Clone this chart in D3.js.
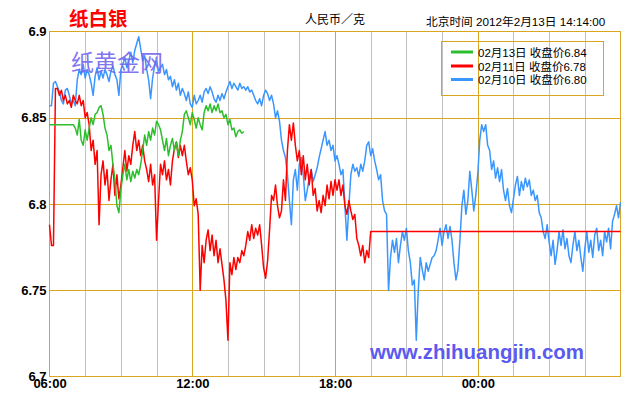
<!DOCTYPE html>
<html>
<head>
<meta charset="utf-8">
<script src="https://cdn.jsdelivr.net/npm/d3@7"></script>
<style>
  html, body { margin: 0; padding: 0; background: #fff; }
  svg { display: block; }
  text { font-family: "Liberation Sans", Arial, "Noto Sans CJK SC", sans-serif; }
</style>
</head>
<body>
<svg id="chart" width="640" height="400"></svg>
<script>
// ---- data (5-minute samples, index 0 = 06:00) ----
const xTickIndex = [0, 72, 144, 216];
const xTickLabels = ["06:00", "12:00", "18:00", "00:00"];
const yTickValues = [6.7, 6.75, 6.8, 6.85, 6.9];
const yTickLabels = ["6.7", "6.75", "6.8", "6.85", "6.9"];

const seriesNames = ["02月13日 收盘价6.84", "02月11日 收盘价6.78", "02月10日 收盘价6.80"];

const greenValues = [
6.846,6.846,6.846,6.846,6.846,6.846,6.846,6.846,6.846,6.846,6.846,6.846,6.846,
6.844,6.840,6.849,6.837,6.834,6.843,6.837,6.844,6.850,6.846,6.852,6.853,6.856,6.857,
6.852,6.844,6.840,6.831,6.834,6.823,6.814,6.799,6.795,6.808,6.817,6.823,6.814,6.820,
6.813,6.819,6.815,6.820,6.817,6.823,6.831,6.840,6.834,6.842,6.837,6.844,6.840,6.848,
6.846,6.843,6.837,6.831,6.838,6.828,6.834,6.838,6.831,6.836,6.828,6.837,6.842,6.852,
6.854,6.850,6.846,6.853,6.849,6.844,6.850,6.846,6.843,6.853,6.857,6.854,6.858,6.853,
6.857,6.854,6.858,6.853,6.854,6.850,6.852,6.846,6.849,6.843,6.844,6.839,6.842,6.843,
6.841,6.842
];

const redValues = [
6.788,6.776,6.776,6.867,6.867,6.863,6.866,6.860,6.863,6.858,6.860,6.856,6.863,6.860,
6.858,6.863,6.857,6.860,6.850,6.853,6.846,6.831,6.837,6.823,6.831,6.788,6.817,6.825,
6.811,6.820,6.802,6.814,6.823,6.805,6.817,6.803,6.811,6.821,6.831,6.819,6.828,6.823,
6.834,6.842,6.831,6.837,6.828,6.834,6.825,6.820,6.813,6.823,6.811,6.817,6.779,6.802,
6.823,6.817,6.825,6.814,6.820,6.811,6.825,6.832,6.836,6.827,6.834,6.828,6.834,6.825,
6.817,6.821,6.814,6.799,6.803,6.794,6.750,6.776,6.766,6.779,6.785,6.773,6.782,6.770,
6.779,6.766,6.774,6.765,6.756,6.744,6.721,6.766,6.759,6.769,6.762,6.769,6.766,6.773,
6.770,6.776,6.784,6.779,6.788,6.780,6.786,6.782,6.788,6.776,6.763,6.757,6.767,6.785,
6.805,6.802,6.811,6.799,6.792,6.796,6.814,6.802,6.831,6.846,6.837,6.847,6.834,6.825,
6.831,6.817,6.828,6.814,6.823,6.811,6.820,6.805,6.809,6.796,6.802,6.795,6.805,6.799,
6.811,6.803,6.813,6.805,6.814,6.808,6.814,6.805,6.811,6.799,6.794,6.802,6.796,6.791,
6.794,6.780,6.776,6.770,6.776,6.766,6.773,6.769,6.784
];
const redCloseValue = 6.784;   // held flat until the end of the session
const sessionEndIndex = 288;

const blueValues = [
6.857,6.857,6.870,6.871,6.868,6.865,6.860,6.858,6.866,6.867,6.863,6.858,6.860,6.857,
6.872,6.878,6.875,6.881,6.873,6.878,6.875,6.870,6.863,6.874,6.879,6.872,6.877,6.873,
6.878,6.875,6.871,6.877,6.880,6.875,6.872,6.863,6.878,6.881,6.885,6.879,6.883,6.888,
6.882,6.889,6.893,6.897,6.890,6.883,6.886,6.878,6.872,6.861,6.873,6.880,6.883,6.877,
6.879,6.881,6.875,6.878,6.872,6.874,6.868,6.872,6.866,6.870,6.863,6.867,6.864,6.860,
6.865,6.858,6.856,6.863,6.858,6.860,6.863,6.859,6.865,6.867,6.864,6.868,6.865,6.861,
6.859,6.863,6.860,6.864,6.861,6.865,6.868,6.871,6.867,6.870,6.868,6.866,6.870,6.867,
6.868,6.866,6.868,6.865,6.866,6.863,6.860,6.858,6.861,6.857,6.863,6.866,6.864,6.860,
6.863,6.858,6.850,6.854,6.848,6.837,6.831,6.827,6.817,6.802,6.788,6.814,6.820,6.808,
6.823,6.827,6.817,6.802,6.808,6.815,6.820,6.813,6.817,6.821,6.827,6.832,6.837,6.842,
6.834,6.837,6.831,6.834,6.825,6.828,6.823,6.817,6.820,6.799,6.779,6.799,6.817,6.823,
6.819,6.821,6.816,6.823,6.819,6.825,6.834,6.836,6.828,6.832,6.825,6.820,6.814,6.817,
6.802,6.796,6.794,6.750,6.769,6.779,6.772,6.780,6.766,6.776,6.784,6.779,6.786,6.773,
6.766,6.753,6.756,6.721,6.750,6.769,6.762,6.756,6.766,6.761,6.765,6.769,6.770,6.773,
6.779,6.786,6.776,6.784,6.788,6.780,6.787,6.779,6.766,6.756,6.762,6.779,6.799,6.808,
6.794,6.802,6.819,6.808,6.796,6.805,6.817,6.837,6.846,6.842,6.846,6.834,6.831,6.820,
6.825,6.815,6.821,6.813,6.820,6.808,6.802,6.809,6.799,6.795,6.803,6.811,6.816,6.805,
6.813,6.808,6.815,6.810,6.814,6.805,6.808,6.802,6.805,6.795,6.792,6.784,6.780,6.788,
6.778,6.770,6.779,6.765,6.773,6.784,6.776,6.785,6.774,6.780,6.770,6.766,6.776,6.784,
6.773,6.779,6.769,6.761,6.774,6.784,6.772,6.779,6.769,6.782,6.786,6.773,6.779,6.770,
6.784,6.778,6.786,6.774,6.790,6.794,6.799,6.792,6.801
];

// ---- drawing ----
const W = 640, H = 400;
const plot = { left: 49.5, right: 620.5, top: 31.5, bottom: 376.5 };
const ORANGE = "#DAA520", GRAY = "#C0C0C0";
const GREEN = "#2DBE2D", RED = "#FF0000", BLUE = "#3A96FF";

const svg = d3.select("#chart");
svg.append("rect").attr("width", W).attr("height", H).attr("fill", "#fff");

const x = d3.scaleLinear().domain([0, sessionEndIndex]).range([plot.left, plot.right]);
const y = d3.scaleLinear().domain([6.7, 6.9]).range([plot.bottom, plot.top]);

// vertical grid lines every 1.5 h (18 samples), orange every 6 h
const gridIdx = d3.range(18, sessionEndIndex, 18);
svg.append("g").selectAll("line").data(gridIdx).join("line")
  .attr("x1", d => Math.round(x(d)) + 0.5).attr("x2", d => Math.round(x(d)) + 0.5)
  .attr("y1", plot.top).attr("y2", plot.bottom)
  .attr("stroke", d => d % 72 === 0 ? ORANGE : GRAY)
  .attr("stroke-width", 1).attr("shape-rendering", "crispEdges");

// horizontal grid lines
svg.append("g").selectAll("line").data(yTickValues.slice(1, -1)).join("line")
  .attr("x1", plot.left).attr("x2", plot.right)
  .attr("y1", d => Math.round(y(d)) + 0.5).attr("y2", d => Math.round(y(d)) + 0.5)
  .attr("stroke", ORANGE).attr("stroke-width", 1).attr("shape-rendering", "crispEdges");

// border
svg.append("rect")
  .attr("x", plot.left).attr("y", plot.top)
  .attr("width", plot.right - plot.left).attr("height", plot.bottom - plot.top)
  .attr("fill", "none").attr("stroke", ORANGE).attr("shape-rendering", "crispEdges");

// series
const line = d3.line().x(d => x(d.t)).y(d => y(d.v));
const toPts = arr => arr.map((v, i) => ({ t: i, v }));

const bluePts = toPts(blueValues);
const redPts = toPts(redValues).concat([{ t: sessionEndIndex, v: redCloseValue }]);
const greenPts = toPts(greenValues);

const lg = svg.append("g").attr("fill", "none").attr("stroke-width", 1.5).attr("stroke-linejoin", "round");
lg.append("path").attr("d", line(bluePts)).attr("stroke", BLUE);
lg.append("path").attr("d", line(redPts)).attr("stroke", RED);
lg.append("path").attr("d", line(greenPts)).attr("stroke", GREEN);

// axes (labels only)
const yAxis = d3.axisLeft(y).tickValues(yTickValues)
  .tickFormat((d, i) => yTickLabels[i]).tickSize(0).tickPadding(3);
const gy = svg.append("g").attr("transform", `translate(${plot.left},0)`).call(yAxis);
gy.select(".domain").remove();
gy.selectAll("text").attr("font-size", 13).attr("font-weight", "bold")
  .attr("font-family", "'Liberation Sans', Arial, sans-serif").attr("fill", "#000");

const xAxis = d3.axisBottom(x).tickValues(xTickIndex)
  .tickFormat((d, i) => xTickLabels[i]).tickSize(0).tickPadding(3);
const gx = svg.append("g").attr("transform", `translate(0,${plot.bottom - 0.5})`).call(xAxis);
gx.select(".domain").remove();
gx.selectAll("text").attr("font-size", 13).attr("font-weight", "bold")
  .attr("font-family", "'Liberation Sans', Arial, sans-serif").attr("fill", "#000");

// titles
svg.append("text").attr("x", 69).attr("y", 26)
  .attr("font-size", 19.5).attr("font-weight", "bold").attr("fill", "#FF0000")
  .attr("font-family", "'Noto Sans CJK SC', sans-serif")
  .text("纸白银");
svg.append("text").attr("x", 305).attr("y", 24)
  .attr("font-size", 12).attr("fill", "#000")
  .attr("font-family", "'Noto Sans CJK SC', sans-serif")
  .text("人民币／克");
svg.append("text").attr("x", 426).attr("y", 26)
  .attr("font-size", 11.7).attr("fill", "#000")
  .text("北京时间 2012年2月13日 14:14:00");

// legend
const leg = svg.append("g");
leg.append("rect").attr("x", 441.5).attr("y", 41.5).attr("width", 162).attr("height", 54)
  .attr("fill", "none").attr("stroke", ORANGE).attr("shape-rendering", "crispEdges");
const legColors = [GREEN, RED, BLUE];
const legY = [52, 66, 79.5];
seriesNames.forEach((name, i) => {
  leg.append("line").attr("x1", 451).attr("x2", 473).attr("y1", legY[i]).attr("y2", legY[i])
    .attr("stroke", legColors[i]).attr("stroke-width", 3);
  leg.append("text").attr("x", 478).attr("y", legY[i] + 4.5)
    .attr("font-size", 11.5).attr("fill", "#000").text(name);
});

// watermarks
svg.append("text").attr("x", 71).attr("y", 71)
  .attr("font-size", 23).attr("fill", "#7468EE").attr("opacity", 0.9)
  .attr("font-family", "'Noto Sans CJK SC', sans-serif")
  .text("纸黄金网");
svg.append("text").attr("x", 370).attr("y", 359)
  .attr("font-size", 20).attr("font-weight", "bold").attr("fill", "#5A5AF0")
  .attr("font-family", "'Liberation Sans', Arial, sans-serif")
  .attr("textLength", 214).attr("lengthAdjust", "spacingAndGlyphs")
  .text("www.zhihuangjin.com");
</script>
</body>
</html>
